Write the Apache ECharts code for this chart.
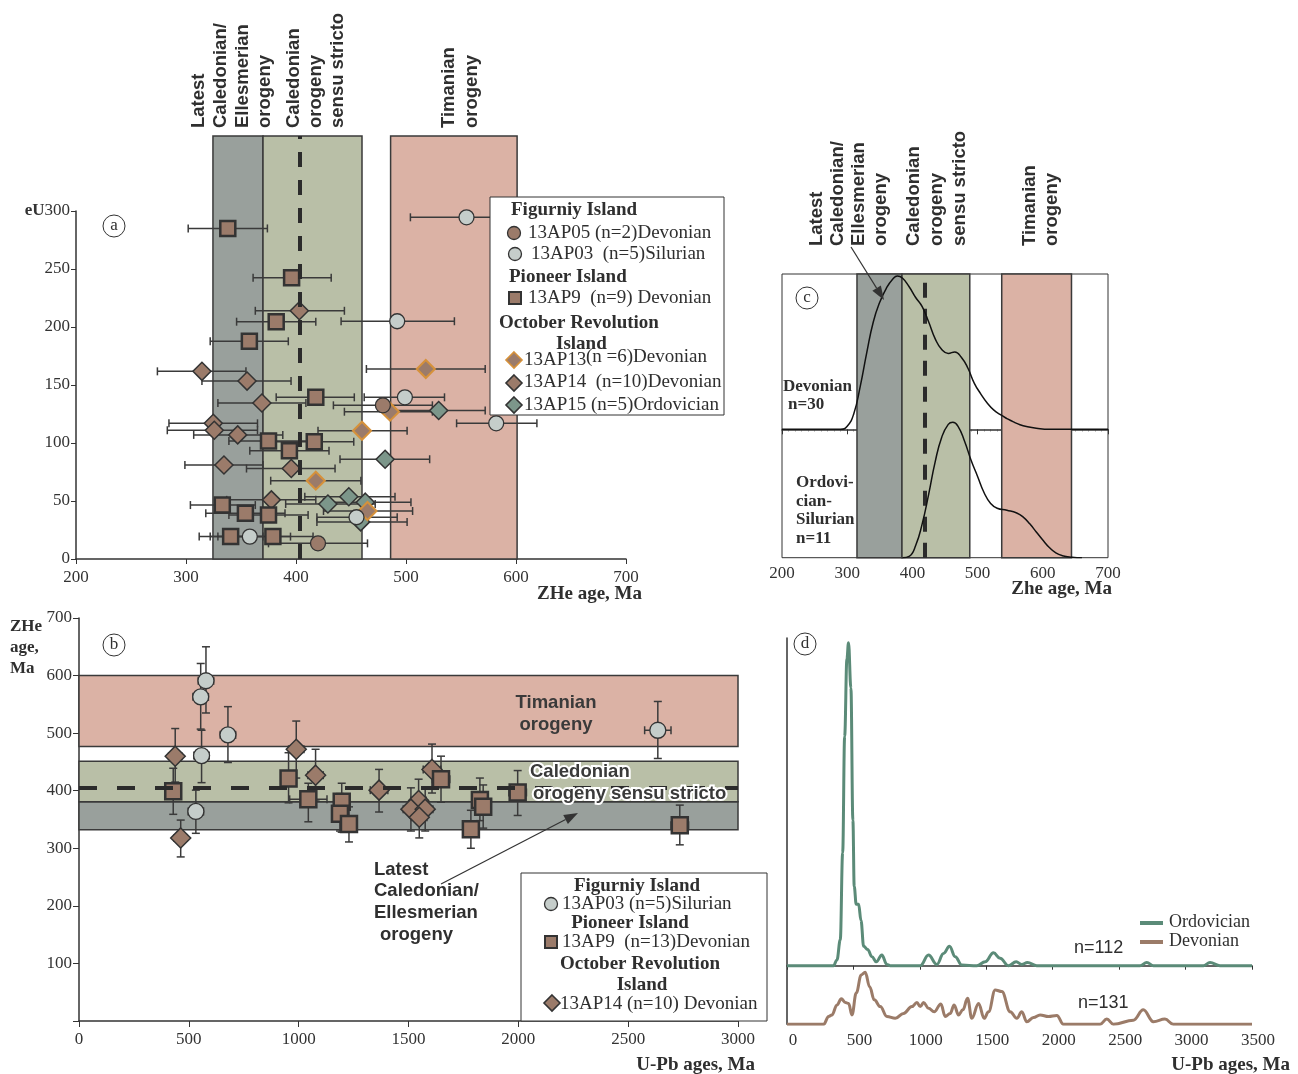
<!DOCTYPE html>
<html>
<head>
<meta charset="utf-8">
<script src="https://cdn.jsdelivr.net/npm/echarts@6/dist/echarts.min.js"></script>
<style>
  html, body { margin: 0; padding: 0; background: #fff; }
  #chart { width: 1298px; height: 1074px; }
</style>
</head>
<body>
<div id="chart"></div>
<script>
// ---- panel a: [ZHe age, eU, age min, age max]
const a13AP05 = [[479, 132.5, 434, 524], [420, 13.5, 375, 465]];
const a13AP03 = [[492, 205, 441, 544], [555, 294.6, 504, 606], [499, 139.4, 462, 535], [582, 117, 546, 619], [455, 36, 419, 492], [358, 19.3, 322, 395]];
const a13AP9 = [[338, 285, 302, 374], [396, 242.5, 361, 432], [382, 204.6, 346, 418], [357.6, 187.7, 322, 393], [418, 139.4, 382, 453], [375, 101.7, 339, 411], [416.6, 101, 381, 452.5], [394, 93.4, 358, 430], [333, 46.5, 304, 363], [354, 39.4, 318, 390], [375, 38, 339, 411], [340.6, 19.3, 312, 370], [379, 19.3, 329, 415.5]];
const a13AP13 = [[518, 163.8, 464, 572], [485.5, 127, 444, 524], [460, 110.6, 420, 501], [418, 67.5, 377, 459], [465, 41.4, 425, 506]];
const a13AP14 = [[403, 214, 363, 444], [314.5, 161.8, 274, 354.5], [355.5, 153.4, 314.5, 395.5], [369, 134.5, 329, 409], [324.8, 117, 284.5, 365], [325.7, 111, 283, 365], [347, 107, 307, 388], [334.5, 81, 299, 370], [395.7, 78, 355, 435.5], [377.6, 51, 337, 418]];
const a13AP15 = [[529.7, 128, 484, 572], [481, 86, 440, 521.5], [429, 47.4, 390.6, 472], [448, 53.7, 408, 490], [463, 49, 425, 504.5], [458.8, 32, 419, 501]];

// orogeny windows (Ma)
const latestCaledonianA = [324.5, 370];
const caledonianA = [370, 460];
const timanianA = [486, 601];
const caledonianDashA = 403;

// ---- panel b: [U-Pb age, ZHe age, U-Pb error, ZHe min, ZHe max]
const b13AP03 = [[578, 591, 35, 535, 650], [554, 563, 35, 507, 621], [678, 497, 35, 449, 546], [558, 461, 35, 414, 505], [532, 364, 35, 326, 401], [2635, 505, 60, 456, 555]];
const b13AP9 = [[429, 399, 30, 359, 439], [954, 421, 35, 379, 466], [1044, 385, 85, 346, 413], [1196, 381, 35, 328, 413], [1188, 360, 35, 330, 395], [1229, 342, 30, 311, 372], [1648, 420, 40, 380, 460], [1825, 384, 35, 348, 422], [1840, 372, 35, 335, 410], [1784, 333, 35, 300, 366], [1997, 397, 40, 357, 435], [2735, 340, 40, 306, 375]];
const b13AP14 = [[438, 460, 30, 415, 508], [463, 318, 30, 285, 349], [989, 472, 35, 422, 521], [1077, 427, 35, 384, 472], [1366, 401, 40, 363, 437], [1546, 383, 35, 350, 420], [1511, 368, 35, 330, 405], [1576, 368, 35, 330, 405], [1549, 354, 35, 318, 390], [1607, 437, 40, 396, 481]];
const latestCaledonianB = [332, 381];
const caledonianB = [381, 451];
const timanianB = [477, 600];
const caledonianDashB = 405;

// ---- panel c: ZHe KDE
const cDevAges = [200, 250, 290, 300, 310, 320, 330, 340, 350, 360, 370, 377, 385, 395, 405, 415, 425, 435, 445, 455, 465, 475, 485, 495, 505, 515, 525, 535, 545, 555, 565, 575, 590, 610, 650, 700];
const cDevDens = [0, 0, 0, 0.02, 0.10, 0.28, 0.50, 0.70, 0.83, 0.92, 0.98, 1.0, 0.985, 0.93, 0.86, 0.80, 0.70, 0.59, 0.52, 0.495, 0.505, 0.47, 0.40, 0.30, 0.23, 0.17, 0.125, 0.095, 0.07, 0.048, 0.03, 0.018, 0.007, 0, 0, 0];
const cOrdAges = [385, 395, 405, 415, 425, 435, 445, 455, 462, 470, 480, 490, 500, 510, 520, 530, 545, 560, 570, 580, 590, 600, 610, 620, 630, 645, 660];
const cOrdDens = [0, 0.01, 0.09, 0.25, 0.47, 0.71, 0.89, 0.985, 1.0, 0.97, 0.86, 0.72, 0.60, 0.48, 0.40, 0.365, 0.35, 0.33, 0.30, 0.25, 0.19, 0.13, 0.075, 0.035, 0.015, 0.004, 0];
const cLatest = [315, 384];
const cCaledonian = [384, 488];
const cTimanian = [537, 644];
const cDash = 419;

// ---- panel d: detrital zircon U-Pb
const dOrdAges = [0, 350, 376, 401, 419, 434, 451, 463, 481, 496, 506, 521, 539, 557, 577, 607, 639, 672, 714, 752, 777, 1003, 1065, 1128, 1178, 1223, 1266, 1316, 1429, 1492, 1554, 1604, 1667, 1725, 1767, 1810, 1880, 2657, 2708, 2758, 3134, 3184, 3259, 3500];
const dOrdDens = [0, 0, 0.018, 0.08, 0.35, 0.71, 0.95, 1.0, 0.86, 0.45, 0.245, 0.19, 0.19, 0.14, 0.06, 0.05, 0.028, 0.012, 0.033, 0.004, 0, 0, 0.033, 0.004, 0.038, 0.06, 0.028, 0.002, 0, 0.012, 0.04, 0.023, 0, 0.012, 0.004, 0.01, 0, 0, 0.01, 0, 0, 0.01, 0, 0];
const dDevAges = [0, 276, 313, 338, 376, 409, 439, 464, 489, 521, 559, 589, 622, 657, 702, 752, 815, 877, 940, 978, 1003, 1028, 1065, 1108, 1158, 1191, 1228, 1258, 1291, 1324, 1359, 1391, 1442, 1484, 1517, 1567, 1617, 1680, 1730, 1767, 1805, 1855, 1905, 1968, 2031, 2081, 2357, 2407, 2457, 2607, 2682, 2758, 2845, 2908, 3500];
const dDevDens = [0, 0, 0.15, 0.18, 0.37, 0.49, 0.42, 0.40, 0.18, 0.60, 0.95, 1.0, 0.72, 0.47, 0.34, 0.15, 0.115, 0.21, 0.34, 0.42, 0.34, 0.42, 0.31, 0.24, 0.39, 0.15, 0.21, 0.37, 0.18, 0.28, 0.50, 0.115, 0.40, 0.115, 0.24, 0.66, 0.63, 0.24, 0.115, 0.24, 0.05, 0.13, 0.18, 0.15, 0.17, 0, 0, 0.10, 0, 0.08, 0.28, 0.05, 0.10, 0, 0];

const SERIF = '"Liberation Serif", "Times New Roman", serif';
const SANS = '"Liberation Sans", Arial, sans-serif';
const INK = '#2f2f2f';
const GREY_BAND = '#99a09c';
const GREEN_BAND = '#b9bfa7';
const PINK_BAND = '#dbb2a5';
const BROWN = '#9b7b6a';
const LIGHT = '#c5cdca';
const TEAL = '#7c968a';
const ORANGE = '#d6913a';

const zip = (xs, ys) => xs.map((x, i) => [x, ys[i]]);
const plain = v => String(v);

function errH(params, api) {
    const y = api.value(1);
    const a = api.coord([api.value(2), y]);
    const b = api.coord([api.value(3), y]);
    const s = { stroke: '#3a3a3a', lineWidth: 1.5 };
    return {
        type: 'group',
        children: [
            { type: 'line', shape: { x1: a[0], y1: a[1], x2: b[0], y2: b[1] }, style: s },
            { type: 'line', shape: { x1: a[0], y1: a[1] - 4, x2: a[0], y2: a[1] + 4 }, style: s },
            { type: 'line', shape: { x1: b[0], y1: b[1] - 4, x2: b[0], y2: b[1] + 4 }, style: s }
        ]
    };
}

function errXY(params, api) {
    const x = api.value(0), y = api.value(1), dx = api.value(2);
    const l = api.coord([x - dx, y]), r = api.coord([x + dx, y]);
    const lo = api.coord([x, api.value(3)]), hi = api.coord([x, api.value(4)]);
    const s = { stroke: '#3a3a3a', lineWidth: 1.5 };
    return {
        type: 'group',
        children: [
            { type: 'line', shape: { x1: l[0], y1: l[1], x2: r[0], y2: r[1] }, style: s },
            { type: 'line', shape: { x1: l[0], y1: l[1] - 4, x2: l[0], y2: l[1] + 4 }, style: s },
            { type: 'line', shape: { x1: r[0], y1: r[1] - 4, x2: r[0], y2: r[1] + 4 }, style: s },
            { type: 'line', shape: { x1: lo[0], y1: lo[1], x2: hi[0], y2: hi[1] }, style: s },
            { type: 'line', shape: { x1: lo[0] - 4, y1: lo[1], x2: lo[0] + 4, y2: lo[1] }, style: s },
            { type: 'line', shape: { x1: hi[0] - 4, y1: hi[1], x2: hi[0] + 4, y2: hi[1] }, style: s }
        ]
    };
}

function bars(data, xi, yi, render) {
    return { type: 'custom', xAxisIndex: xi, yAxisIndex: yi, data: data, renderItem: render, z: 3, silent: true };
}
function marks(data, xi, yi, symbol, size, fill, border, bw) {
    return {
        type: 'scatter', xAxisIndex: xi, yAxisIndex: yi, data: data, symbol: symbol, symbolSize: size,
        itemStyle: { color: fill, borderColor: border, borderWidth: bw, opacity: 1 }, z: 4, silent: true
    };
}
function band(range, color, dim) {
    const a = {}, b = {};
    a[dim] = range[0]; b[dim] = range[1];
    a.itemStyle = { color: color, borderColor: '#3a3a3a', borderWidth: 1.5 };
    return [a, b];
}

// ---- graphic helpers
const G = [];
function txt(x, y, text, font, extra) {
    G.push({ type: 'text', x: x, y: y, z: 100, style: Object.assign({ text: text, font: font, fill: INK, textAlign: 'left', textVerticalAlign: 'middle' }, extra || {}) });
}
function vtxt(x, y, text) {
    G.push({ type: 'text', x: x, y: y, rotation: Math.PI / 2, z: 100, style: { text: text, font: 'bold 18.5px ' + SANS, fill: INK, textAlign: 'left', textVerticalAlign: 'middle' } });
}
function tag(x, y, letter) {
    G.push({ type: 'circle', z: 100, shape: { cx: x, cy: y, r: 11 }, style: { fill: '#fff', stroke: '#333', lineWidth: 1 } });
    txt(x, y, letter, '17px ' + SERIF, { textAlign: 'center' });
}
function arrow(x1, y1, x2, y2) {
    const len = Math.hypot(x2 - x1, y2 - y1), ux = (x2 - x1) / len, uy = (y2 - y1) / len;
    const bx = x2 - ux * 14, by = y2 - uy * 14;
    G.push({ type: 'line', z: 100, shape: { x1: x1, y1: y1, x2: bx, y2: by }, style: { stroke: '#333', lineWidth: 1.2 } });
    G.push({ type: 'polygon', z: 100, shape: { points: [[x2, y2], [bx - uy * 5, by + ux * 5], [bx + uy * 5, by - ux * 5]] }, style: { fill: '#333' } });
}
function legCircle(x, y, fill) {
    G.push({ type: 'circle', z: 101, shape: { cx: x, cy: y, r: 6.5 }, style: { fill: fill, stroke: '#333', lineWidth: 1.3 } });
}
function legSquare(x, y) {
    G.push({ type: 'rect', z: 101, shape: { x: x - 6, y: y - 6, width: 12, height: 12 }, style: { fill: BROWN, stroke: '#333', lineWidth: 2 } });
}
function legDiamond(x, y, fill, stroke) {
    G.push({ type: 'polygon', z: 101, shape: { points: [[x, y - 8], [x + 8, y], [x, y + 8], [x - 8, y]] }, style: { fill: fill, stroke: stroke, lineWidth: 1.6 } });
}

// panel a labels
vtxt(199, 128, 'Latest'); vtxt(221, 128, 'Caledonian/'); vtxt(243, 128, 'Ellesmerian'); vtxt(265, 128, 'orogeny');
vtxt(294, 128, 'Caledonian'); vtxt(316, 128, 'orogeny'); vtxt(338, 128, 'sensu stricto');
vtxt(449, 128, 'Timanian'); vtxt(472, 128, 'orogeny');
tag(114, 226, 'a');
txt(642, 594, 'ZHe age, Ma', 'bold 19px ' + SERIF, { textAlign: 'right' });
// panel a legend
G.push({ type: 'rect', z: 99, shape: { x: 490, y: 197, width: 234, height: 218 }, style: { fill: '#fff', stroke: '#333', lineWidth: 1 } });
txt(511, 210, 'Figurniy Island', 'bold 19px ' + SERIF);
legCircle(514, 233, BROWN); txt(528, 233, '13AP05 (n=2)Devonian', '19px ' + SERIF);
legCircle(515, 254, LIGHT); txt(531, 254, '13AP03  (n=5)Silurian', '19px ' + SERIF);
txt(509, 277, 'Pioneer Island', 'bold 19px ' + SERIF);
legSquare(515, 298); txt(528, 298, '13AP9  (n=9) Devonian', '19px ' + SERIF);
txt(499, 323, 'October Revolution', 'bold 19px ' + SERIF);
txt(556, 344, 'Island', 'bold 19px ' + SERIF);
legDiamond(514, 360, BROWN, ORANGE); txt(524, 360, '13AP13', '19px ' + SERIF); txt(586, 357, '(n =6)Devonian', '19px ' + SERIF);
legDiamond(514, 383, BROWN, '#333'); txt(524, 382, '13AP14  (n=10)Devonian', '19px ' + SERIF);
legDiamond(514, 405, TEAL, '#333'); txt(524, 405, '13AP15 (n=5)Ordovician', '19px ' + SERIF);

// panel b labels
tag(114, 645, 'b');
txt(10, 627, 'ZHe', 'bold 17px ' + SERIF); txt(10, 648, 'age,', 'bold 17px ' + SERIF); txt(10, 669, 'Ma', 'bold 17px ' + SERIF);
txt(755, 1065, 'U-Pb ages, Ma', 'bold 19px ' + SERIF, { textAlign: 'right' });
txt(556, 703, 'Timanian', 'bold 18.5px ' + SANS, { textAlign: 'center', fill: '#3a3a3a' });
txt(556, 725, 'orogeny', 'bold 18.5px ' + SANS, { textAlign: 'center', fill: '#3a3a3a' });
txt(530, 772, 'Caledonian', 'bold 18.5px ' + SANS, { fill: '#3a3a3a', stroke: '#fff', lineWidth: 4, strokeFirst: true });
txt(533, 794, 'orogeny sensu stricto', 'bold 18.5px ' + SANS, { fill: '#3a3a3a', stroke: '#fff', lineWidth: 4, strokeFirst: true });
txt(374, 870, 'Latest', 'bold 18.5px ' + SANS); txt(374, 891, 'Caledonian/', 'bold 18.5px ' + SANS);
txt(374, 913, 'Ellesmerian', 'bold 18.5px ' + SANS); txt(380, 935, 'orogeny', 'bold 18.5px ' + SANS);
arrow(441, 884, 578, 813);
G.push({ type: 'rect', z: 99, shape: { x: 521, y: 873, width: 246, height: 148 }, style: { fill: '#fff', stroke: '#333', lineWidth: 1 } });
txt(637, 886, 'Figurniy Island', 'bold 19px ' + SERIF, { textAlign: 'center' });
legCircle(551, 904, LIGHT); txt(562, 904, '13AP03 (n=5)Silurian', '19px ' + SERIF);
txt(630, 923, 'Pioneer Island', 'bold 19px ' + SERIF, { textAlign: 'center' });
legSquare(551, 942); txt(562, 942, '13AP9  (n=13)Devonian', '19px ' + SERIF);
txt(640, 964, 'October Revolution', 'bold 19px ' + SERIF, { textAlign: 'center' });
txt(642, 985, 'Island', 'bold 19px ' + SERIF, { textAlign: 'center' });
legDiamond(552, 1003, BROWN, '#333'); txt(560, 1004, '13AP14 (n=10) Devonian', '19px ' + SERIF);

// panel c labels
vtxt(817, 246, 'Latest'); vtxt(838, 246, 'Caledonian/'); vtxt(859, 246, 'Ellesmerian'); vtxt(881, 246, 'orogeny');
vtxt(914, 246, 'Caledonian'); vtxt(937, 246, 'orogeny'); vtxt(960, 246, 'sensu stricto');
vtxt(1030, 246, 'Timanian'); vtxt(1052, 246, 'orogeny');
tag(807, 298, 'c');
arrow(851, 247, 884, 300);
txt(783, 387, 'Devonian', 'bold 17px ' + SERIF); txt(788, 405, 'n=30', 'bold 17px ' + SERIF);
txt(796, 483, 'Ordovi-', 'bold 17px ' + SERIF); txt(796, 502, 'cian-', 'bold 17px ' + SERIF);
txt(796, 520, 'Silurian', 'bold 17px ' + SERIF); txt(796, 539, 'n=11', 'bold 17px ' + SERIF);
txt(1112, 589, 'Zhe age, Ma', 'bold 19px ' + SERIF, { textAlign: 'right' });

// panel d labels
tag(805, 644, 'd');
G.push({ type: 'line', z: 100, shape: { x1: 1140, y1: 923, x2: 1163, y2: 923 }, style: { stroke: '#5b8b78', lineWidth: 4 } });
G.push({ type: 'line', z: 100, shape: { x1: 1140, y1: 942, x2: 1163, y2: 942 }, style: { stroke: '#9b7b68', lineWidth: 4 } });
txt(1169, 922, 'Ordovician', '18px ' + SERIF); txt(1169, 941, 'Devonian', '18px ' + SERIF);
txt(1074, 948, 'n=112', '18px ' + SANS); txt(1078, 1003, 'n=131', '18px ' + SANS);
txt(1290, 1065, 'U-Pb ages, Ma', 'bold 19px ' + SERIF, { textAlign: 'right' });

const axisText = { fontFamily: SERIF, fontSize: 17, color: '#333', formatter: plain };
const axisLine = { show: true, lineStyle: { color: '#333', width: 1.5 } };

const chart = echarts.init(document.getElementById('chart'), null, { renderer: 'canvas' });
chart.setOption({
    animation: false,
    backgroundColor: '#fff',
    grid: [
        { left: 76, top: 136, width: 550, height: 423 },
        { left: 76, top: 211, width: 550, height: 348 },
        { left: 79, top: 618, width: 659, height: 403 },
        { left: 782, top: 274, width: 326, height: 283.7, show: true, borderColor: '#333', borderWidth: 1, backgroundColor: 'transparent' },
        { left: 787, top: 638, width: 465, height: 386.3 }
    ],
    xAxis: [
        { gridIndex: 0, type: 'value', min: 200, max: 700, interval: 100, axisLine: axisLine, axisTick: { inside: false, length: 5, lineStyle: { color: '#333' } }, axisLabel: Object.assign({ margin: 10 }, axisText), splitLine: { show: false } },
        { gridIndex: 1, type: 'value', min: 200, max: 700, show: false },
        { gridIndex: 2, type: 'value', min: 0, max: 3000, interval: 500, axisLine: axisLine, axisTick: { length: 6, lineStyle: { color: '#333' } }, axisLabel: Object.assign({ margin: 10 }, axisText), splitLine: { show: false } },
        { gridIndex: 3, type: 'value', min: 200, max: 700, interval: 100, axisLine: axisLine, axisTick: { length: 5, lineStyle: { color: '#333' } }, minorTick: { show: true, splitNumber: 10, length: 2, lineStyle: { color: '#555' } }, axisLabel: Object.assign({ margin: 7 }, axisText), splitLine: { show: false } },
        { gridIndex: 4, type: 'value', min: 0, max: 3500, interval: 500, axisLine: axisLine, axisTick: { length: 4, lineStyle: { color: '#333' } }, axisLabel: Object.assign({ margin: 8, padding: [0, 0, 0, 12] }, axisText), splitLine: { show: false } }
    ],
    yAxis: [
        { gridIndex: 0, type: 'value', min: 0, max: 364.7, show: false },
        {
            gridIndex: 1, type: 'value', min: 0, max: 300, interval: 50, axisLine: axisLine,
            axisTick: { length: 5, lineStyle: { color: '#333' } }, splitLine: { show: false },
            axisLabel: Object.assign({}, axisText, { margin: 6, formatter: v => v === 300 ? '{b|eU}300' : String(v), rich: { b: { fontFamily: SERIF, fontSize: 17, fontWeight: 'bold', color: '#333' } } })
        },
        {
            gridIndex: 2, type: 'value', min: 0, max: 700, interval: 100, axisLine: axisLine,
            axisTick: { length: 6, lineStyle: { color: '#333' } }, splitLine: { show: false },
            axisLabel: Object.assign({}, axisText, { margin: 7, formatter: v => v === 0 ? '' : String(v) })
        },
        { gridIndex: 3, type: 'value', min: -0.8376, max: 1.0131, show: false },
        { gridIndex: 3, type: 'value', min: 0, max: 2.0953, show: false },
        { gridIndex: 4, type: 'value', min: -0.1814, max: 1.0146, axisLine: axisLine, axisTick: { show: false }, axisLabel: { show: false }, splitLine: { show: false } },
        { gridIndex: 4, type: 'value', min: 0, max: 7.43, show: false }
    ],
    graphic: { elements: G },
    series: [
        // panel a
        {
            type: 'scatter', xAxisIndex: 0, yAxisIndex: 0, data: [], z: 1, silent: true,
            markArea: { silent: true, data: [band(latestCaledonianA, GREY_BAND, 'xAxis'), band(caledonianA, GREEN_BAND, 'xAxis'), band(timanianA, PINK_BAND, 'xAxis')] },
            markLine: { silent: true, symbol: 'none', label: { show: false }, lineStyle: { color: '#2b2b2b', width: 4, type: [15, 13] }, data: [{ xAxis: caledonianDashA }] }
        },
        bars(a13AP05, 0, 0, errH), bars(a13AP03, 0, 0, errH), bars(a13AP9, 0, 0, errH),
        bars(a13AP13, 0, 0, errH), bars(a13AP14, 0, 0, errH), bars(a13AP15, 0, 0, errH),
        marks(a13AP14, 0, 0, 'diamond', 18, BROWN, '#333', 1.5),
        marks(a13AP15, 0, 0, 'diamond', 18, TEAL, '#333', 1.5),
        marks(a13AP13, 0, 0, 'diamond', 18, BROWN, ORANGE, 2),
        marks(a13AP9, 0, 0, 'rect', 15, BROWN, '#333', 2.5),
        marks(a13AP03, 0, 0, 'circle', 15, LIGHT, '#333', 1.3),
        marks(a13AP05, 0, 0, 'circle', 15, BROWN, '#333', 1.3),
        // panel b
        {
            type: 'scatter', xAxisIndex: 2, yAxisIndex: 2, data: [], z: 1, silent: true,
            markArea: { silent: true, data: [band(latestCaledonianB, GREY_BAND, 'yAxis'), band(caledonianB, GREEN_BAND, 'yAxis'), band(timanianB, PINK_BAND, 'yAxis')] },
            markLine: { silent: true, symbol: 'none', label: { show: false }, lineStyle: { color: '#2b2b2b', width: 4, type: [18, 20] }, data: [{ yAxis: caledonianDashB }] }
        },
        bars(b13AP03, 2, 2, errXY), bars(b13AP9, 2, 2, errXY), bars(b13AP14, 2, 2, errXY),
        marks(b13AP14, 2, 2, 'diamond', 20, BROWN, '#333', 1.5),
        marks(b13AP9, 2, 2, 'rect', 16, BROWN, '#333', 2.5),
        marks(b13AP03, 2, 2, 'circle', 16, LIGHT, '#333', 1.3),
        // panel c
        {
            type: 'scatter', xAxisIndex: 3, yAxisIndex: 3, data: [], z: 1, silent: true,
            markArea: { silent: true, data: [band(cLatest, GREY_BAND, 'xAxis'), band(cCaledonian, GREEN_BAND, 'xAxis'), band(cTimanian, PINK_BAND, 'xAxis')] },
            markLine: { silent: true, symbol: 'none', label: { show: false }, lineStyle: { color: '#2b2b2b', width: 4, type: [15, 11] }, data: [{ xAxis: cDash }] }
        },
        { type: 'line', xAxisIndex: 3, yAxisIndex: 3, data: zip(cDevAges, cDevDens), smooth: 0.5, showSymbol: false, lineStyle: { color: '#111', width: 1.5 }, z: 5, silent: true },
        { type: 'line', xAxisIndex: 3, yAxisIndex: 4, data: zip(cOrdAges, cOrdDens), smooth: 0.5, showSymbol: false, lineStyle: { color: '#111', width: 1.5 }, z: 5, silent: true },
        // panel d
        { type: 'line', xAxisIndex: 4, yAxisIndex: 5, data: zip(dOrdAges, dOrdDens), smooth: 0.4, smoothMonotone: 'x', showSymbol: false, lineStyle: { color: '#5b8b78', width: 3 }, z: 5, silent: true },
        { type: 'line', xAxisIndex: 4, yAxisIndex: 6, data: zip(dDevAges, dDevDens), smooth: 0.4, smoothMonotone: 'x', showSymbol: false, lineStyle: { color: '#9b7b68', width: 3 }, z: 5, silent: true }
    ]
});
</script>
</body>
</html>
